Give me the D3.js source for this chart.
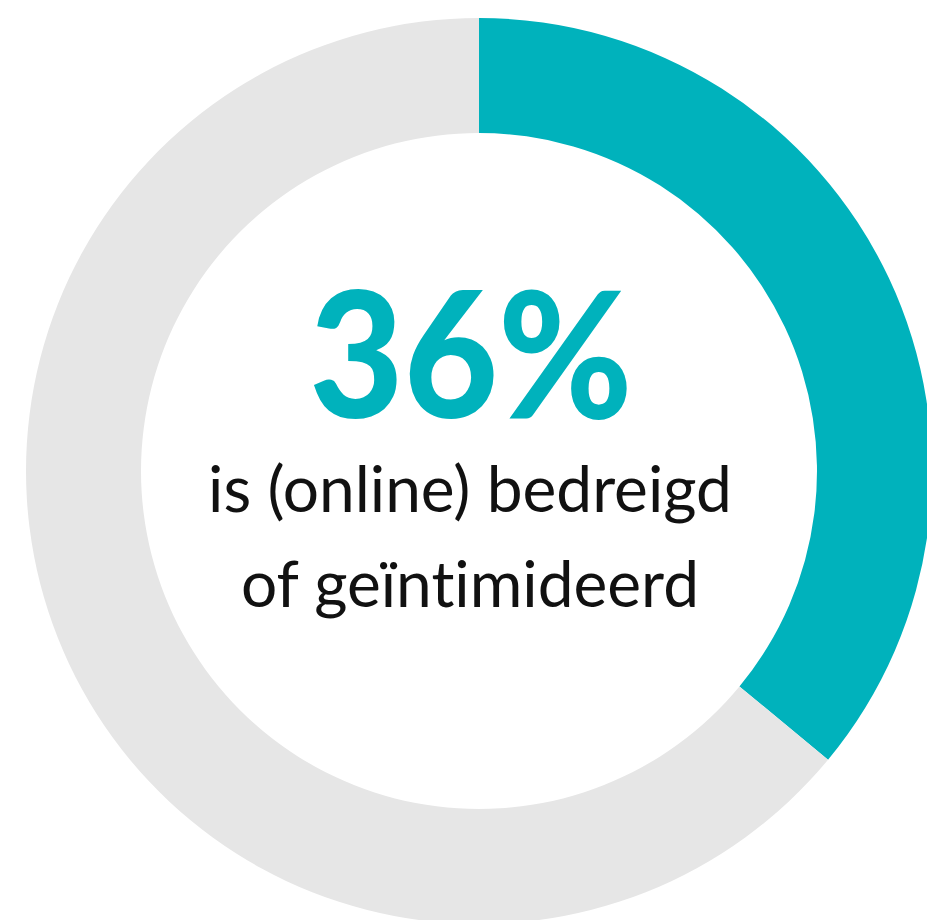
<!DOCTYPE html>
<html>
<head>
<meta charset="utf-8">
<script src="https://cdn.jsdelivr.net/npm/d3@7"></script>
<style>
  html, body { margin: 0; padding: 0; background: #fff; overflow: hidden; }
</style>
</head>
<body>
<div id="chart"></div>
<script>
// data
var labels = ["bedreigd", "overig"];
var values = [36, 64];
var colors = ["#00b2bc", "#e6e6e6"];
var bigLabel = "36%";
var textLines = ["is (online) bedreigd", "of geïntimideerd"];

var width = 927, height = 920;
var cx = 479, cy = 471;
var outerR = 453, innerR = 338;

var svg = d3.select("#chart")
    .append("svg")
    .attr("width", width)
    .attr("height", height);

var g = svg.append("g")
    .attr("transform", "translate(" + cx + "," + cy + ")");

var pie = d3.pie().sort(null).value(function(d) { return d; });
var arc = d3.arc().innerRadius(innerR).outerRadius(outerR);

g.selectAll("path")
    .data(pie(values))
    .enter()
    .append("path")
    .attr("d", arc)
    .attr("fill", function(d, i) { return colors[i]; });

// center text, big number is a bit condensed in the original
g.append("text")
    .attr("transform", "translate(-8,-53) scale(0.925,1)")
    .attr("text-anchor", "middle")
    .style("font-family", "Lato")
    .style("font-weight", 900)
    .style("font-size", "176px")
    .style("fill", colors[0])
    .text(bigLabel);

g.selectAll(".line")
    .data(textLines)
    .enter()
    .append("text")
    .attr("class", "line")
    .attr("x", -9)
    .attr("y", function(d, i) { return 41 + i * 95; })
    .attr("text-anchor", "middle")
    .style("font-family", "Lato")
    .style("font-size", "64px")
    .style("font-variant-ligatures", "none")
    .style("fill", "#111")
    .text(function(d) { return d; });
</script>
</body>
</html>
